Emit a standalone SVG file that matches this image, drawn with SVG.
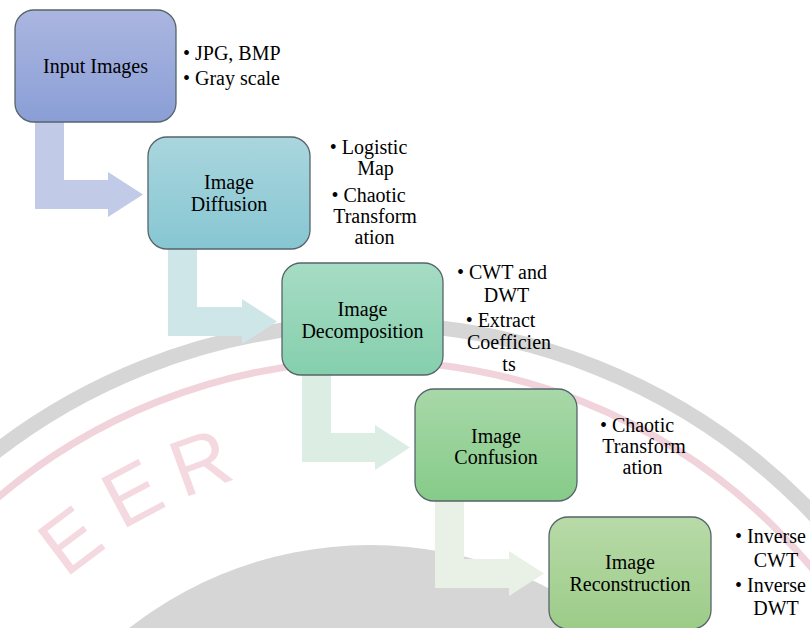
<svg xmlns="http://www.w3.org/2000/svg" width="810" height="628" viewBox="0 0 810 628">
  <defs>
    <linearGradient id="g1" x1="0" y1="0" x2="0" y2="1"><stop offset="0" stop-color="#abb6e0"/><stop offset="1" stop-color="#8a9ed6"/></linearGradient>
    <linearGradient id="g2" x1="0" y1="0" x2="0" y2="1"><stop offset="0" stop-color="#aad6de"/><stop offset="1" stop-color="#86c6d2"/></linearGradient>
    <linearGradient id="g3" x1="0" y1="0" x2="0" y2="1"><stop offset="0" stop-color="#a6dcc4"/><stop offset="1" stop-color="#85cfad"/></linearGradient>
    <linearGradient id="g4" x1="0" y1="0" x2="0" y2="1"><stop offset="0" stop-color="#a8d8a8"/><stop offset="1" stop-color="#86cb89"/></linearGradient>
    <linearGradient id="g5" x1="0" y1="0" x2="0" y2="1"><stop offset="0" stop-color="#b8daa8"/><stop offset="1" stop-color="#9ccc88"/></linearGradient>
  </defs>
  <style>
    .box { stroke: #56646a; stroke-width: 1.3; }
    .t { font-family: "Liberation Serif", "DejaVu Serif", serif; font-size: 20px; fill: #000; }
    .c { text-anchor: middle; }
    .wm { font-family: "Liberation Sans", sans-serif; font-size: 80px; fill: #f4d9e1; text-anchor: middle; }
  </style>
  <rect width="810" height="628" fill="#ffffff"/>
  <g id="watermark">
    <circle cx="370" cy="936" r="612" fill="none" stroke="#d6d6d6" stroke-width="15"/>
    <circle cx="370" cy="936" r="575" fill="none" stroke="#f1d3dc" stroke-width="7"/>
    <circle cx="370" cy="936" r="391" fill="#d6d6d6"/>
    <text class="wm" transform="translate(70,540) rotate(-37)" y="28">E</text>
    <text class="wm" transform="translate(132,493) rotate(-28)" y="28">E</text>
    <text class="wm" transform="translate(200,462) rotate(-20)" y="28">R</text>
  </g>
  <g id="connectors">
    <path fill="#c1cbe7" d="M35,122 L64,122 L64,180 L108,180 L108,172 L143,194.5 L108,217 L108,209 L35,209 Z"/>
    <path fill="#cfe6e9" d="M168,249 L197,249 L197,307 L242,307 L242,299 L277,321.5 L242,344 L242,336 L168,336 Z"/>
    <path fill="#dcede4" d="M302,375 L331,375 L331,433 L375,433 L375,425 L410,447.5 L375,470 L375,462 L302,462 Z"/>
    <path fill="#e9f1e7" d="M435,501 L464,501 L464,559 L509,559 L509,551 L544,573.5 L509,596 L509,588 L435,588 Z"/>
  </g>
  <g id="n1">
    <rect class="box" x="15" y="10" width="161" height="112" rx="19" fill="url(#g1)"/>
    <text class="t c" x="95.5" y="73">Input Images</text>
    <text class="t" x="183" y="60">• JPG, BMP</text>
    <text class="t" x="183" y="85">• Gray scale</text>
  </g>
  <g id="n2">
    <rect class="box" x="148" y="137" width="162" height="112" rx="19" fill="url(#g2)"/>
    <text class="t c" x="229" y="188.5">Image</text>
    <text class="t c" x="229" y="211">Diffusion</text>
    <text class="t c" x="368.5" y="154">• Logistic</text>
    <text class="t c" x="375.5" y="175">Map</text>
    <text class="t c" x="368.5" y="201.5">• Chaotic</text>
    <text class="t c" x="375" y="223">Transform</text>
    <text class="t c" x="374.5" y="244">ation</text>
  </g>
  <g id="n3">
    <rect class="box" x="282" y="263" width="161" height="112" rx="19" fill="url(#g3)"/>
    <text class="t c" x="362.5" y="316">Image</text>
    <text class="t c" x="362.5" y="338">Decomposition</text>
    <text class="t c" x="502" y="279">• CWT and</text>
    <text class="t c" x="506.5" y="302">DWT</text>
    <text class="t c" x="500.5" y="326.5">• Extract</text>
    <text class="t c" x="509" y="349">Coefficien</text>
    <text class="t c" x="509" y="370.5">ts</text>
  </g>
  <g id="n4">
    <rect class="box" x="415" y="389" width="162" height="112" rx="19" fill="url(#g4)"/>
    <text class="t c" x="496" y="442.5">Image</text>
    <text class="t c" x="496" y="464">Confusion</text>
    <text class="t c" x="637" y="432">• Chaotic</text>
    <text class="t c" x="644" y="453">Transform</text>
    <text class="t c" x="642.5" y="473.5">ation</text>
  </g>
  <g id="n5">
    <rect class="box" x="549" y="517" width="162" height="112" rx="19" fill="url(#g5)"/>
    <text class="t c" x="630" y="568.5">Image</text>
    <text class="t c" x="630" y="591">Reconstruction</text>
    <text class="t" x="735" y="543">• Inverse</text>
    <text class="t c" x="776" y="567">CWT</text>
    <text class="t" x="735" y="592">• Inverse</text>
    <text class="t c" x="776" y="615">DWT</text>
  </g>
</svg>
